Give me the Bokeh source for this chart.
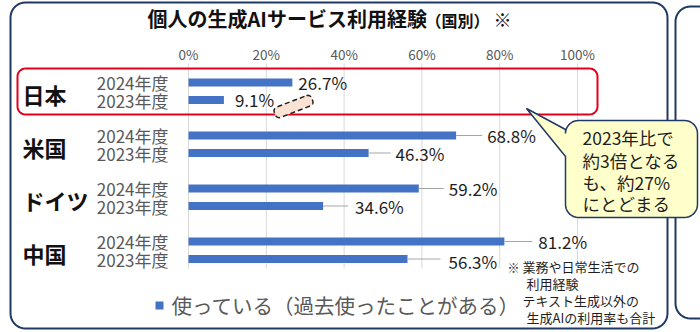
import numpy as np
from bokeh.plotting import figure
from bokeh.models import Range1d
from bokeh.core.properties import value
from bokeh.embed import file_html
from bokeh.resources import INLINE

# ---- data -------------------------------------------------------------
countries = ["日本", "米国", "ドイツ", "中国"]
years = ["2024年度", "2023年度"]
usage_2024 = [26.7, 68.8, 59.2, 81.2]
usage_2023 = [9.1, 46.3, 34.6, 56.3]
tick_values = [0, 20, 40, 60, 80, 100]
tick_labels = ["0%", "20%", "40%", "60%", "80%", "100%"]
title_main = "個人の生成AIサービス利用経験"
title_sub = "（国別）"
title_mark = "※"
legend_label = "使っている（過去使ったことがある）"
callout_lines = ["2023年比で", "約3倍となる", "も、約27%", "にとどまる"]
note_mark = "※"
note_lines = ["業務や日常生活での", "利用経験", "テキスト生成以外の", "生成AIの利用率も合計"]

# ---- layout / style ---------------------------------------------------
W, H = 700, 332
ZERO_PX = 188          # pixel column of the 0% gridline
PX_PER_PCT = 3.89      # pixels per percentage point
FONT = value("Noto Sans CJK JP")
BLUE = "#4472C4"
NAVY = "#1F3864"
GRAY_TXT = "#595959"
DARK_TXT = "#1E1E1E"

GROUP_TOP = 82         # centre of the first bar
GROUP_STEP = 53        # distance between country groups
PAIR_STEP = 17.5       # distance between the two years of a group
BAR_H = 8

# (leader length px, label offset px, label y shift px) for each bar, 2024 then 2023
label_layout = [
    [(0, 6, 0), (0, 11, -1)],
    [(26, 31, 0), (22, 27, 0)],
    [(25, 30, 0), (25, 32, 0)],
    [(28, 34, 0), (33, 41, 2)],
]


def xd(px):
    """Convert a pixel column to the percentage scale of the x axis."""
    return (np.asarray(px, dtype=float) - ZERO_PX) / PX_PER_PCT


def rounded_rect(x0, y0, x1, y1, r, n=10, left_insert=None):
    """Outline of a rounded rectangle in pixel space (y grows downward)."""
    pts = []

    def arc(cx, cy, a0, a1):
        for a in np.linspace(a0, a1, n):
            pts.append((cx + r * np.cos(a), cy + r * np.sin(a)))

    arc(x1 - r, y0 + r, -np.pi / 2, 0)            # top-right
    arc(x1 - r, y1 - r, 0, np.pi / 2)             # bottom-right
    arc(x0 + r, y1 - r, np.pi / 2, np.pi)         # bottom-left
    if left_insert:
        pts.extend(left_insert)
    arc(x0 + r, y0 + r, np.pi, 1.5 * np.pi)       # top-left
    pts.append(pts[0])
    xs = [p[0] for p in pts]
    ys = [p[1] for p in pts]
    return xs, ys


p = figure(width=W, height=H, output_backend="svg", toolbar_location=None,
           x_axis_type=None, y_axis_type=None, min_border=0,
           x_range=Range1d(xd(0), xd(W)), y_range=Range1d(H, 0))
p.outline_line_color = None
p.background_fill_color = "white"
p.grid.visible = False

# ---- panels -------------------------------------------------------------
px_, py_ = rounded_rect(10, 2, 667, 328, 15)
p.line(xd(px_), py_, line_color=NAVY, line_width=2)
px_, py_ = rounded_rect(675, 6, 740, 318, 15)
p.line(xd(px_), py_, line_color=NAVY, line_width=2)

# ---- gridlines and tick labels -----------------------------------------
p.segment(x0=tick_values, x1=tick_values, y0=[63] * len(tick_values),
          y1=[268] * len(tick_values), line_color="#D9D9D9", line_width=1)
p.text(x=tick_values, y=[53] * len(tick_values), text=tick_labels,
       text_font=FONT, text_font_size=value("13.5px"), text_color=GRAY_TXT,
       text_align="center", text_baseline="middle")

# ---- highlight frame around Japan --------------------------------------
px_, py_ = rounded_rect(17, 68, 597, 114, 8)
p.line(xd(px_), py_, line_color="#E3001B", line_width=2)

# ---- bars ---------------------------------------------------------------
y24 = [GROUP_TOP + i * GROUP_STEP for i in range(len(countries))]
y23 = [y + PAIR_STEP for y in y24]
p.hbar(y=y24, left=0, right=usage_2024, height=BAR_H, fill_color=BLUE, line_color=None)
p.hbar(y=y23, left=0, right=usage_2023, height=BAR_H, fill_color=BLUE, line_color=None)

# ---- leaders and value labels ------------------------------------------
for i in range(len(countries)):
    for j, (vals, ys) in enumerate(((usage_2024, y24), (usage_2023, y23))):
        v = vals[i]
        yv = ys[i]
        lead, off, dy = label_layout[i][j]
        if lead:
            p.segment(x0=[v], x1=[v + lead / PX_PER_PCT], y0=[yv], y1=[yv],
                      line_color="#A6A6A6", line_width=1)
        p.text(x=[v], y=[yv + dy], text=[f"{v}%"], x_offset=off,
               text_font=FONT, text_font_size=value("17px"), text_color=DARK_TXT,
               text_align="left", text_baseline="middle")

# ---- country and year labels -------------------------------------------
p.text(x=xd([22] * len(countries)), y=[(a + b) / 2 + 3 for a, b in zip(y24, y23)],
       text=countries, text_font=FONT, text_font_size=value("22px"),
       text_font_style="bold", text_color="#111111",
       text_align="left", text_baseline="middle")
p.text(x=xd([168] * len(countries)), y=y24, text=[years[0]] * len(countries),
       text_font=FONT, text_font_size=value("17px"), text_color=GRAY_TXT,
       text_align="right", text_baseline="middle")
p.text(x=xd([168] * len(countries)), y=y23, text=[years[1]] * len(countries),
       text_font=FONT, text_font_size=value("17px"), text_color=GRAY_TXT,
       text_align="right", text_baseline="middle")

# ---- dashed marker next to the 2023 Japan bar --------------------------
lx, ly = rounded_rect(-20, -5.5, 20, 5.5, 4)
ang = np.deg2rad(-21)
rx = 293 + np.array(lx) * np.cos(ang) - np.array(ly) * np.sin(ang)
ry = 106 + np.array(lx) * np.sin(ang) + np.array(ly) * np.cos(ang)
p.patch(xd(rx), ry, fill_color="#FBE3D3", line_color="#222222",
        line_width=1.5, line_dash="5 3")

# ---- callout ------------------------------------------------------------
cx_, cy_ = rounded_rect(565, 120, 697, 217, 13,
                        left_insert=[(565, 156), (526, 108), (565, 129)])
p.patch(xd(cx_), cy_, fill_color="#FFFFCC", line_color=NAVY, line_width=1.5)
p.text(x=xd([582] * len(callout_lines)), y=[137, 160, 182, 203], text=callout_lines,
       text_font=FONT, text_font_size=value("17.5px"), text_color=DARK_TXT,
       text_align="left", text_baseline="middle")

# ---- title --------------------------------------------------------------
p.text(x=xd([147]), y=[18], text=[title_main], text_font=FONT,
       text_font_size=value("20px"), text_font_style="bold", text_color="#111111",
       text_align="left", text_baseline="middle")
p.text(x=xd([425]), y=[19], text=[title_sub], text_font=FONT,
       text_font_size=value("16px"), text_font_style="bold", text_color="#111111",
       text_align="left", text_baseline="middle")
p.text(x=xd([493]), y=[18], text=[title_mark], text_font=FONT,
       text_font_size=value("18px"), text_font_style="bold", text_color="#111111",
       text_align="left", text_baseline="middle")

# ---- legend -------------------------------------------------------------
p.rect(x=xd([159]), y=[305], width=8 / PX_PER_PCT, height=8,
       fill_color=BLUE, line_color=None)
p.text(x=xd([171]), y=[304], text=[legend_label], text_font=FONT,
       text_font_size=value("20.5px"), text_color=GRAY_TXT,
       text_align="left", text_baseline="middle")

# ---- footnote -----------------------------------------------------------
p.text(x=xd([507]), y=[267], text=[note_mark], text_font=FONT,
       text_font_size=value("12px"), text_color=DARK_TXT,
       text_align="left", text_baseline="middle")
p.text(x=xd([522, 526, 522, 526]), y=[266, 283, 300, 317], text=note_lines,
       text_font=FONT, text_font_size=value("13px"), text_color=DARK_TXT,
       text_align="left", text_baseline="middle")

open("out.html", "w").write(file_html(p, INLINE))
